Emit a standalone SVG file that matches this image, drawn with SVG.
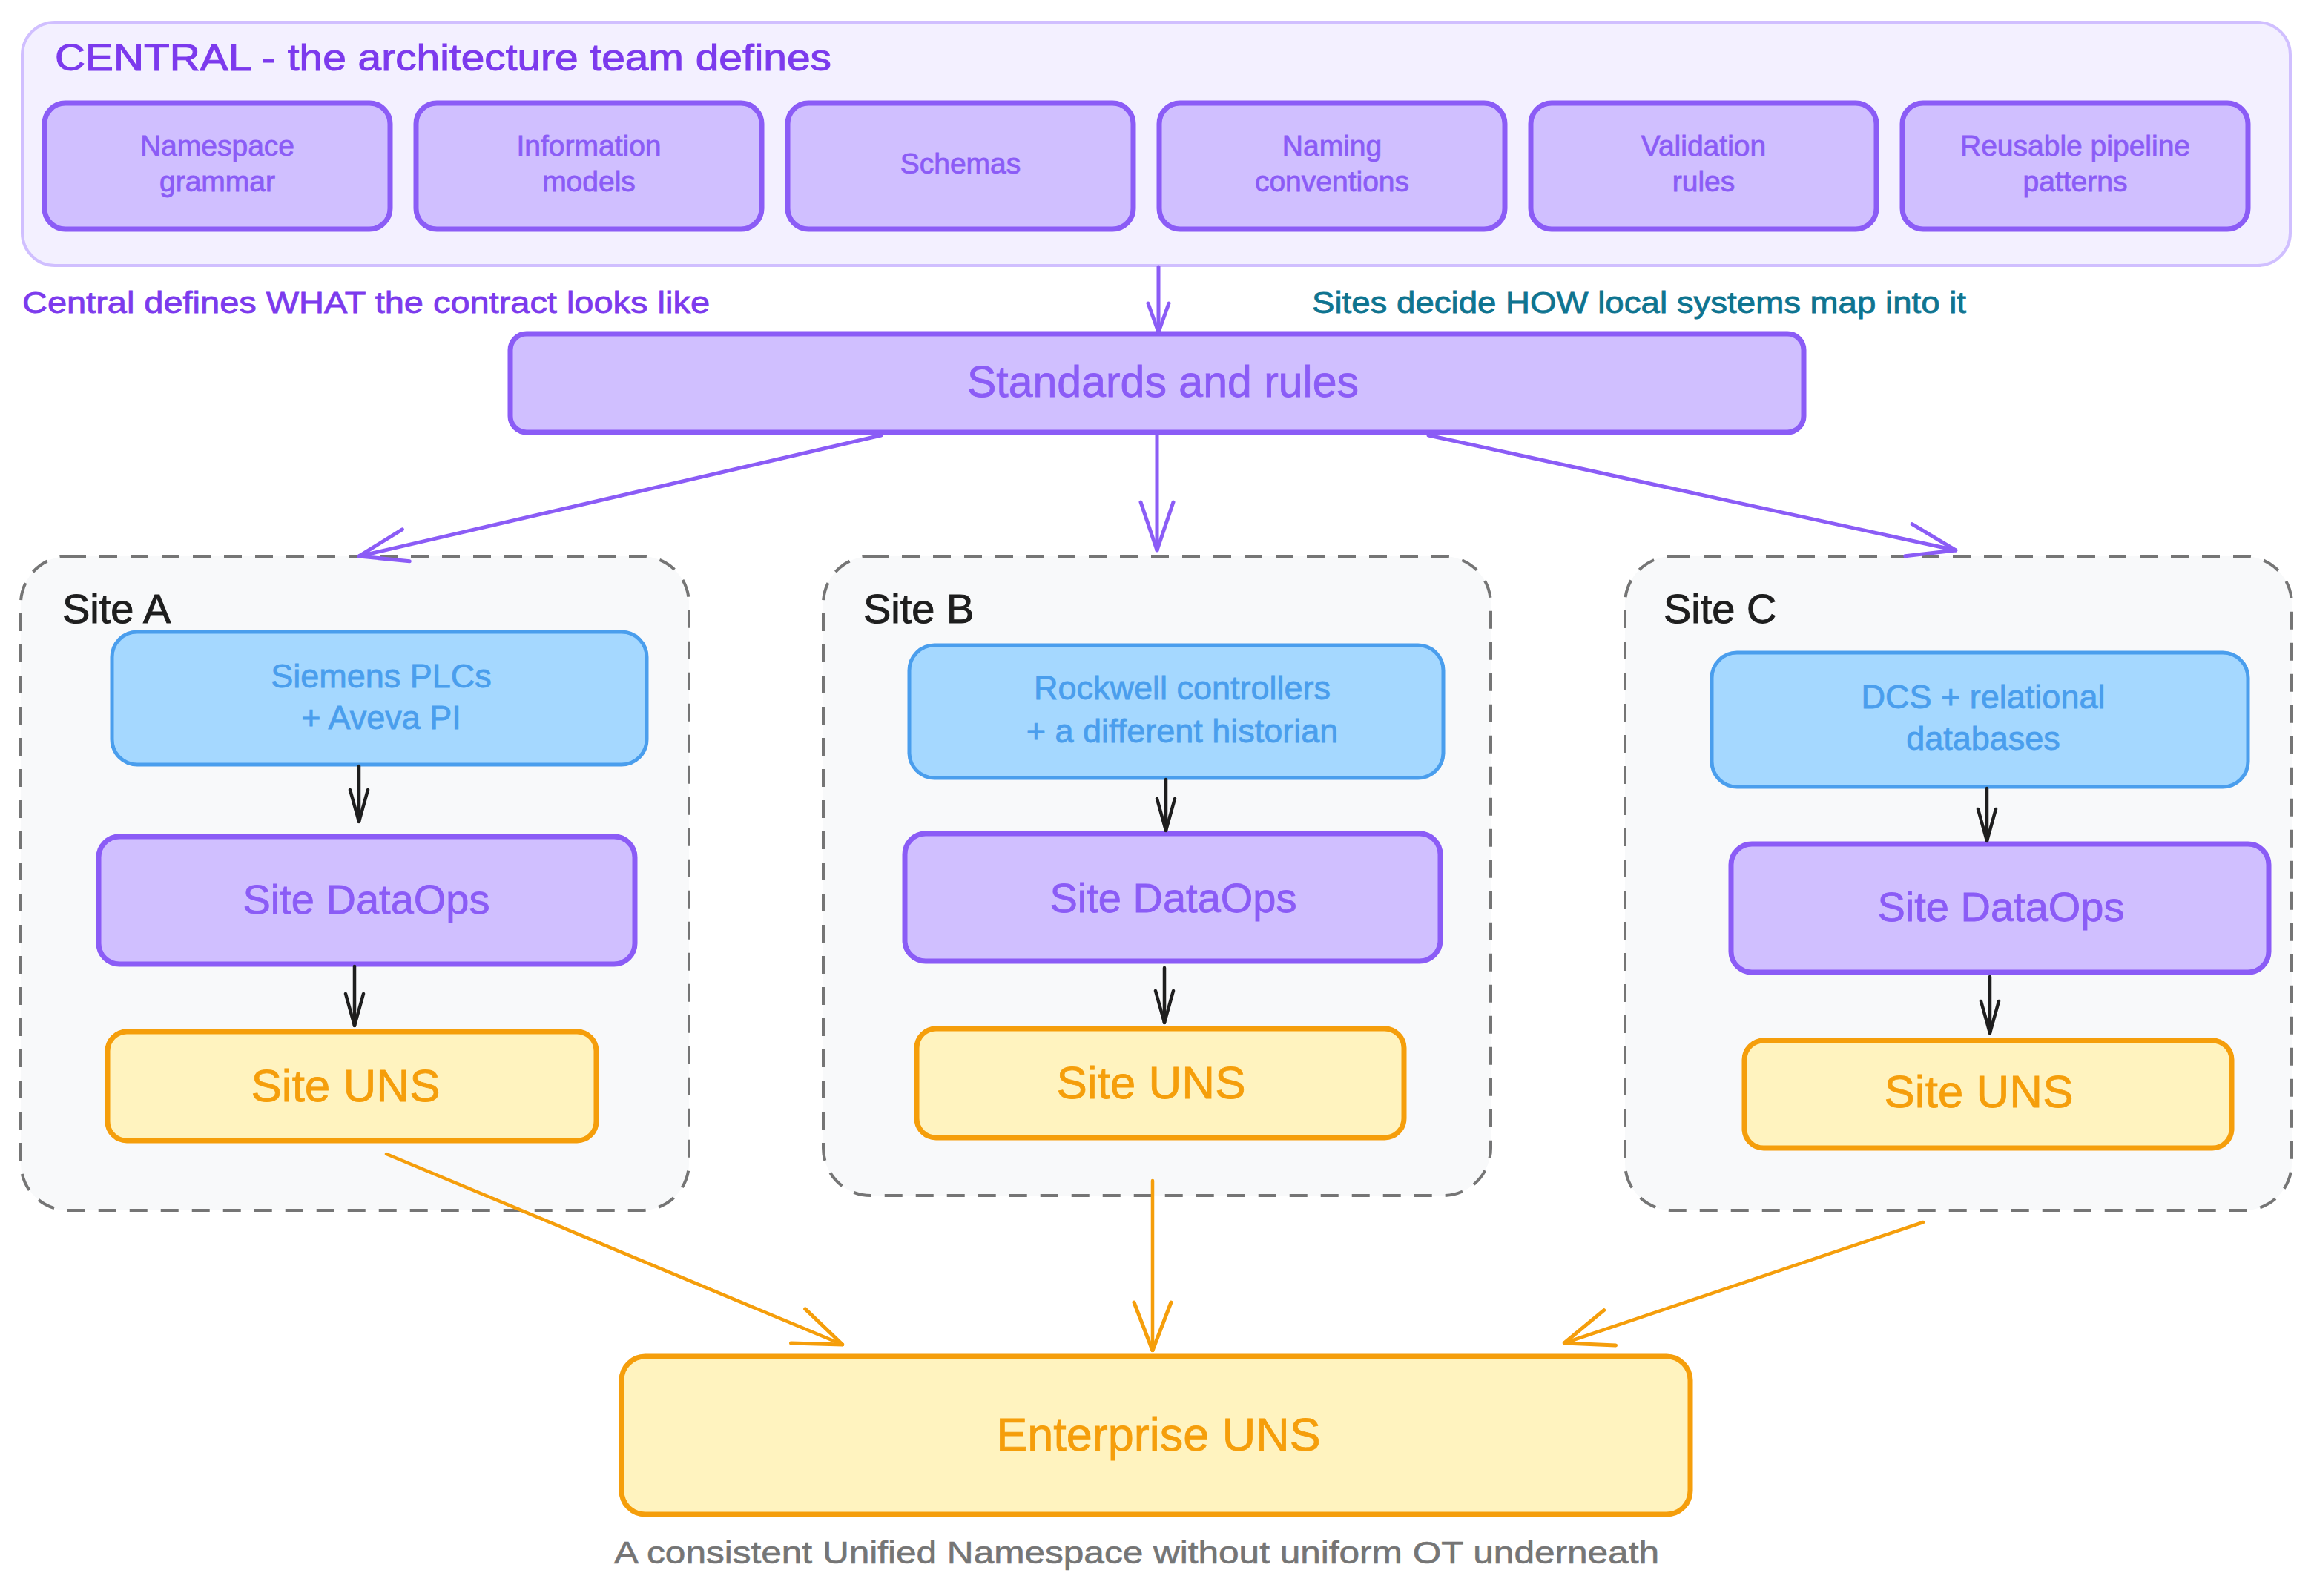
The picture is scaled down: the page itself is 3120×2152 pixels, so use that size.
<svg xmlns="http://www.w3.org/2000/svg" width="3120" height="2152" viewBox="0 0 3120 2152">
<defs>
<style>
text{font-family:"Liberation Sans","DejaVu Sans",sans-serif;}
.central{fill:#f3f0ff;stroke:#d0bfff;stroke-width:4}
.vbox{fill:#d0bfff;stroke:#8b5cf6;stroke-width:7}
.bbox{fill:#a5d8ff;stroke:#4a9eed;stroke-width:5}
.obox{fill:#fff3bf;stroke:#f59e0b;stroke-width:7}
.site{fill:#f8f9fa;stroke:#757575;stroke-width:4;stroke-dasharray:24 18}
.vt{fill:#8b5cf6;stroke:#8b5cf6;stroke-width:0.8;text-anchor:middle}
.bt{fill:#4a9eed;stroke:#4a9eed;stroke-width:0.8;text-anchor:middle;font-size:45px}
.ot{fill:#f59e0b;stroke:#f59e0b;stroke-width:0.8;text-anchor:middle}
.sl{fill:#1e1e1e;stroke:#1e1e1e;stroke-width:1;font-size:56px}
.cv{fill:none;stroke:#8b5cf6;stroke-width:5;stroke-linecap:round}
.ck{fill:none;stroke:#1e1e1e;stroke-width:4.5;stroke-linecap:round}
.co{fill:none;stroke:#f59e0b;stroke-width:4.5;stroke-linecap:round}
</style>
<marker id="av" viewBox="0 0 70 50" refX="68" refY="25" markerWidth="70" markerHeight="50" markerUnits="userSpaceOnUse" orient="auto">
<path d="M3,3 L68,25 L3,47" fill="none" stroke="#8b5cf6" stroke-width="5" stroke-linecap="round" stroke-linejoin="round"/>
</marker>
<marker id="av2" viewBox="0 0 44 34" refX="42" refY="17" markerWidth="44" markerHeight="34" markerUnits="userSpaceOnUse" orient="auto">
<path d="M3,3 L42,17 L3,31" fill="none" stroke="#8b5cf6" stroke-width="5" stroke-linecap="round" stroke-linejoin="round"/>
</marker>
<marker id="ak" viewBox="0 0 48 30" refX="46" refY="15" markerWidth="48" markerHeight="30" markerUnits="userSpaceOnUse" orient="auto">
<path d="M3,3 L46,15 L3,27" fill="none" stroke="#1e1e1e" stroke-width="4.5" stroke-linecap="round" stroke-linejoin="round"/>
</marker>
<marker id="ao" viewBox="0 0 70 56" refX="68" refY="28" markerWidth="70" markerHeight="56" markerUnits="userSpaceOnUse" orient="auto">
<path d="M3,3 L68,28 L3,53" fill="none" stroke="#f59e0b" stroke-width="5" stroke-linecap="round" stroke-linejoin="round"/>
</marker>
</defs>
<rect width="3120" height="2152" fill="#ffffff"/>

<g id="central">
<rect class="central" x="30" y="30" width="3058" height="328" rx="44"/>
<text x="74" y="95" font-size="50" fill="#7c3aed" stroke="#7c3aed" stroke-width="1" textLength="1047" lengthAdjust="spacingAndGlyphs">CENTRAL - the architecture team defines</text>
</g>
<g id="n-namespace"><rect class="vbox" x="60" y="139" width="466" height="170" rx="28"/><text class="vt" font-size="39" x="293" y="210">Namespace</text><text class="vt" font-size="39" x="293" y="258">grammar</text></g>
<g id="n-info"><rect class="vbox" x="561" y="139" width="466" height="170" rx="28"/><text class="vt" font-size="39" x="794" y="210">Information</text><text class="vt" font-size="39" x="794" y="258">models</text></g>
<g id="n-schemas"><rect class="vbox" x="1062" y="139" width="466" height="170" rx="28"/><text class="vt" font-size="39" x="1295" y="234">Schemas</text></g>
<g id="n-naming"><rect class="vbox" x="1563" y="139" width="466" height="170" rx="28"/><text class="vt" font-size="39" x="1796" y="210">Naming</text><text class="vt" font-size="39" x="1796" y="258">conventions</text></g>
<g id="n-validation"><rect class="vbox" x="2064" y="139" width="466" height="170" rx="28"/><text class="vt" font-size="39" x="2297" y="210">Validation</text><text class="vt" font-size="39" x="2297" y="258">rules</text></g>
<g id="n-pipeline"><rect class="vbox" x="2565" y="139" width="466" height="170" rx="28"/><text class="vt" font-size="39" x="2798" y="210">Reusable pipeline</text><text class="vt" font-size="39" x="2798" y="258">patterns</text></g>

<g id="notes">
<text x="30" y="422" font-size="40" fill="#7c3aed" stroke="#7c3aed" stroke-width="0.8" textLength="927" lengthAdjust="spacingAndGlyphs">Central defines WHAT the contract looks like</text>
<text x="1769" y="422" font-size="40" fill="#0e7490" stroke="#0e7490" stroke-width="0.8" textLength="882" lengthAdjust="spacingAndGlyphs">Sites decide HOW local systems map into it</text>
</g>

<g id="n-standards"><rect class="vbox" x="688" y="450" width="1744" height="133" rx="22"/><text class="vt" font-size="59" x="1568" y="535">Standards and rules</text></g>

<g id="site-a">
<rect class="site" x="28" y="750" width="901" height="882" rx="64"/>
<text class="sl" x="84" y="840">Site A</text>
<g id="a-src"><rect class="bbox" x="151" y="852" width="721" height="179" rx="34"/><text class="bt" x="514" y="927">Siemens PLCs</text><text class="bt" x="514" y="983">+ Aveva PI</text></g>
<g id="a-dataops"><rect class="vbox" x="133" y="1128" width="723" height="172" rx="28"/><text class="vt" font-size="56" x="494" y="1232">Site DataOps</text></g>
<g id="a-uns"><rect class="obox" x="145" y="1391" width="659" height="147" rx="26"/><text class="ot" font-size="62" x="466" y="1485">Site UNS</text></g>
</g>

<g id="site-b">
<rect class="site" x="1110" y="750" width="900" height="862" rx="64"/>
<text class="sl" x="1164" y="840">Site B</text>
<g id="b-src"><rect class="bbox" x="1226" y="870" width="720" height="179" rx="34"/><text class="bt" x="1594" y="943">Rockwell controllers</text><text class="bt" x="1594" y="1001">+ a different historian</text></g>
<g id="b-dataops"><rect class="vbox" x="1220" y="1124" width="722" height="172" rx="28"/><text class="vt" font-size="56" x="1582" y="1230">Site DataOps</text></g>
<g id="b-uns"><rect class="obox" x="1236" y="1387" width="657" height="147" rx="26"/><text class="ot" font-size="62" x="1552" y="1481">Site UNS</text></g>
</g>

<g id="site-c">
<rect class="site" x="2191" y="750" width="899" height="882" rx="64"/>
<text class="sl" x="2243" y="840">Site C</text>
<g id="c-src"><rect class="bbox" x="2308" y="880" width="723" height="181" rx="34"/><text class="bt" x="2674" y="955">DCS + relational</text><text class="bt" x="2674" y="1011">databases</text></g>
<g id="c-dataops"><rect class="vbox" x="2334" y="1138" width="725" height="173" rx="28"/><text class="vt" font-size="56" x="2698" y="1242">Site DataOps</text></g>
<g id="c-uns"><rect class="obox" x="2352" y="1403" width="657" height="145" rx="26"/><text class="ot" font-size="62" x="2668" y="1493">Site UNS</text></g>
</g>

<g id="n-enterprise"><rect class="obox" x="838" y="1829" width="1441" height="213" rx="32"/><text class="ot" font-size="63" x="1562" y="1956">Enterprise UNS</text></g>

<text x="828" y="2108" font-size="42" fill="#757575" stroke="#757575" stroke-width="0.6" textLength="1409" lengthAdjust="spacingAndGlyphs">A consistent Unified Namespace without uniform OT underneath</text>

<g id="connectors">
<path class="cv" d="M1562,360 L1562,448" marker-end="url(#av2)"/>
<path class="cv" d="M1188,587 L484,750" marker-end="url(#av)"/>
<path class="cv" d="M1560,587 L1560,742" marker-end="url(#av)"/>
<path class="cv" d="M1926,587 L2637,742" marker-end="url(#av)"/>
<path class="ck" d="M484,1033 L484,1108" marker-end="url(#ak)"/>
<path class="ck" d="M478,1303 L478,1383" marker-end="url(#ak)"/>
<path class="ck" d="M1572,1051 L1572,1120" marker-end="url(#ak)"/>
<path class="ck" d="M1570,1305 L1570,1379" marker-end="url(#ak)"/>
<path class="ck" d="M2679,1063 L2679,1134" marker-end="url(#ak)"/>
<path class="ck" d="M2683,1317 L2683,1393" marker-end="url(#ak)"/>
<path class="co" d="M521,1556 L1136,1813" marker-end="url(#ao)"/>
<path class="co" d="M1554,1592 L1554,1821" marker-end="url(#ao)"/>
<path class="co" d="M2593,1648 L2109,1811" marker-end="url(#ao)"/>
</g>
</svg>
